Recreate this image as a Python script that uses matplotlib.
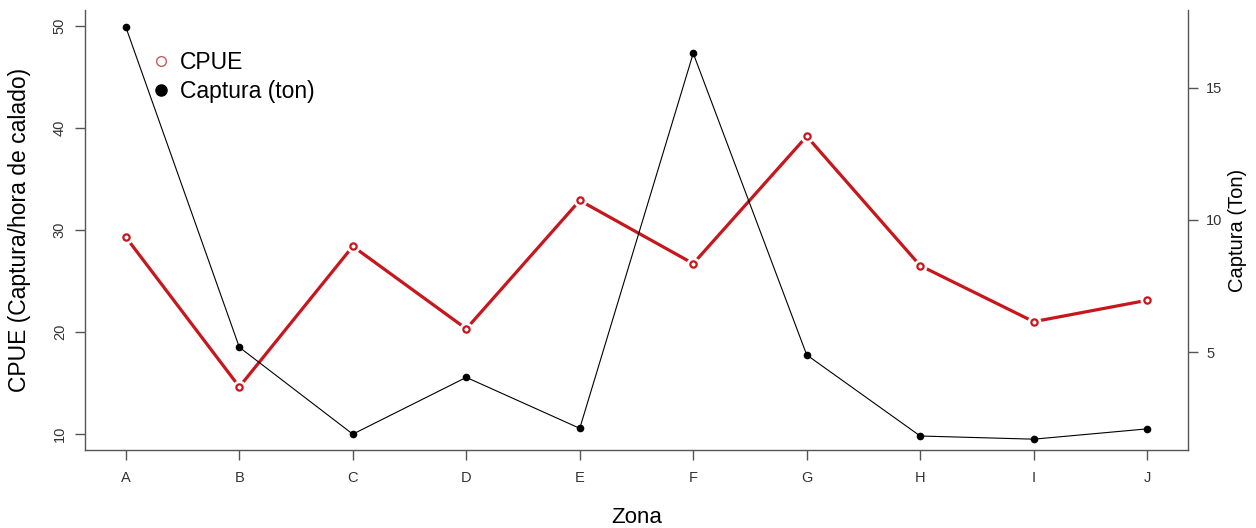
import matplotlib
matplotlib.use("Agg")
import matplotlib.pyplot as plt
from matplotlib.lines import Line2D
import numpy as np

plt.rcParams['font.family'] = ['Liberation Sans', 'DejaVu Sans']

zonas = ["A", "B", "C", "D", "E", "F", "G", "H", "I", "J"]
cpue = [29.3, 14.6, 28.4, 20.3, 32.9, 26.7, 39.2, 26.5, 21.0, 23.1]
captura = [17.3, 5.18, 1.89, 4.04, 2.11, 16.31, 4.89, 1.82, 1.70, 2.09]
left_ticks = [10, 20, 30, 40, 50]
right_ticks = [5, 10, 15]

red = "#C8161D"
axcol = "#555555"
txtcol = "#333333"

fig = plt.figure(figsize=(12.56, 5.28), dpi=100)
ax = fig.add_axes([85/1256, (528-450)/528, (1188-85)/1256, 440/528])
x = np.arange(1, len(zonas) + 1)

ax.plot(x, cpue, color=red, lw=2.3, zorder=2)
ax.plot(x, cpue, ls="none", marker="o", ms=10, mfc="white", mec="none", zorder=3)
ax.plot(x, cpue, ls="none", marker="o", ms=4.5, mfc="white", mec=red, mew=1.6, zorder=4)
ax.set_xlim(1 - 0.36, 10 + 0.36)
ax.set_ylim(8.4, 51.6)
ax.set_yticks(left_ticks)
ax.set_yticklabels([str(t) for t in left_ticks], rotation=90, va="center")
ax.set_xticks(x)
ax.set_xticklabels(zonas)
ax.set_xlabel("Zona", fontsize=16, labelpad=16)
ax.set_ylabel("CPUE (Captura/hora de calado)", fontsize=16.5, labelpad=16)

ax2 = ax.twinx()
ax2.plot(x, captura, color="black", lw=0.8, marker="o", ms=4.5, zorder=3)
ax2.set_ylim(1.29, 17.95)
ax2.set_yticks(right_ticks)
ax2.set_yticklabels([str(t) for t in right_ticks])
ax2.set_ylabel("Captura (Ton)", fontsize=14.5, rotation=90, labelpad=4)

for a in (ax, ax2):
    a.spines["top"].set_visible(False)
    for s in ("left", "right", "bottom"):
        a.spines[s].set_color(axcol)
        a.spines[s].set_linewidth(1.0)
    a.tick_params(axis="both", colors=axcol, labelcolor=txtcol, labelsize=10.5, length=7, width=1.0, pad=6)
ax.spines["right"].set_visible(False)
ax2.spines["left"].set_visible(False)
ax2.spines["bottom"].set_visible(False)
ax.tick_params(axis="x", pad=8)

handles = [
    Line2D([], [], ls="none", marker="o", ms=7, mfc="white", mec="#C06060", mew=1.0),
    Line2D([], [], ls="none", marker="o", ms=8, mfc="black", mec="black"),
]
ax.legend(handles, ["CPUE", "Captura (ton)"], loc="upper left", frameon=False,
          fontsize=16.5, bbox_to_anchor=(0.0505, 0.928), handletextpad=0.3,
          labelspacing=0.25, handlelength=1.0, borderaxespad=0)

fig.savefig("out.png", dpi=100)
